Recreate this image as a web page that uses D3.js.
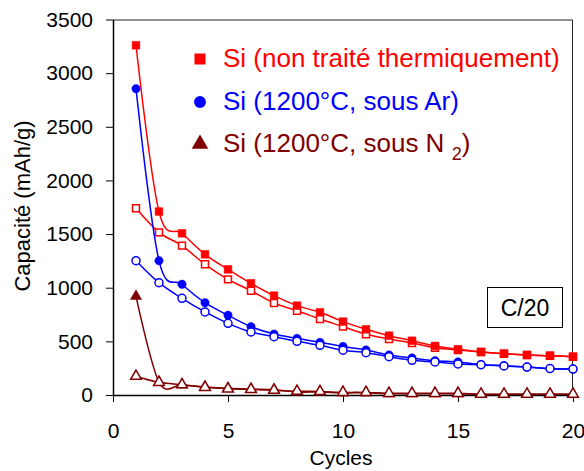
<!DOCTYPE html>
<html><head><meta charset="utf-8">
<script src="https://cdn.jsdelivr.net/npm/d3@7"></script>
<style>
html,body{margin:0;padding:0;background:#fff;}
svg{display:block;font-family:"Liberation Sans",Arial,sans-serif;}
</style></head>
<body><svg id="c" width="584" height="471"></svg>
<script>
const cycles = [1,2,3,4,5,6,7,8,9,10,11,12,13,14,15,16,17,18,19,20];
const redFilled  = [3260,1710,1507,1311,1171,1041,926,833,771,684,612,553,506,457,426,401,385,373,366,357];
const redOpen    = [1740,1516,1392,1218,1078,972,857,786,708,637,566,522,485,441,419,401,385,373,366,357];
const blueFilled = [2855,1252,1032,860,743,637,568,528,491,452,419,373,345,320,308,283,273,261,245,242];
const blueOpen   = [1252,1047,901,774,668,587,543,500,463,418,394,357,323,308,289,283,271,260,247,242];
const darkFilled = [920,120,95,75,62,55,50,28,28,20,20,12,12,12,12,6,6,6,6,6];
const darkOpen   = [175,118,96,72,58,52,45,35,33,25,24,16,16,16,16,8,8,8,8,8];
const xTicks = [0,5,10,15,20];
const yTicks = [0,500,1000,1500,2000,2500,3000,3500];
const legendLabels = ["Si (non traité thermiquement)","Si (1200°C, sous Ar)","Si (1200°C, sous N"];

const RED="#ff0000", BLUE="#0000ff", DARK="#800000";
const svg = d3.select("#c");
const L=113, R=573, T=19.5, B=395;
const x = d3.scaleLinear().domain([0,20]).range([L,R]);
const y = d3.scaleLinear().domain([0,3500]).range([B,T]);

// frame top/right
svg.append("path").attr("d",`M${L},${T+0.5}H${R-0.5}V${B}`).attr("fill","none").attr("stroke","#222").attr("stroke-width",1);

const fs = "21px";
const gx = svg.append("g").attr("transform",`translate(0,${B})`)
  .call(d3.axisBottom(x).tickValues(xTicks).tickFormat(d3.format("d")).tickSize(7).tickPadding(21).tickSizeOuter(0));
const gy = svg.append("g").attr("transform",`translate(${L},0)`)
  .call(d3.axisLeft(y).tickValues(yTicks).tickFormat(d3.format("d")).tickSize(7).tickPadding(13).tickSizeOuter(0));
[gx,gy].forEach(g=>{
  g.select(".domain").attr("stroke","#000").attr("stroke-width",1.5);
  g.selectAll(".tick line").attr("stroke","#000");
  g.selectAll("text").attr("font-size",fs).attr("fill","#000").attr("font-family","Liberation Sans, Arial, sans-serif");
});

// axis titles
svg.append("text").attr("x",341).attr("y",465).attr("text-anchor","middle")
  .attr("font-size","21px").text("Cycles");
svg.append("text").attr("transform","translate(30,206) rotate(-90)").attr("text-anchor","middle")
  .attr("font-size","22px").text("Capacité (mAh/g)");

const line = d3.line().x((d,i)=>x(cycles[i])).y(d=>y(d)).curve(d3.curveCatmullRom.alpha(0));

function series(vals, color, shape, filled){
  const g = svg.append("g");
  g.append("path").datum(vals).attr("d",line).attr("fill","none").attr("stroke",color).attr("stroke-width",1.5);
  const sym = d3.symbol().type(shape==="square"?d3.symbolSquare:shape==="circle"?d3.symbolCircle:d3.symbolTriangle)
    .size(shape==="square"?(filled?60:48):shape==="circle"?(filled?55:50):(filled?55:50));
  g.selectAll("path.m").data(vals).join("path").attr("class","m")
    .attr("d",sym)
    .attr("transform",(d,i)=>`translate(${x(cycles[i])},${y(d)})`)
    .attr("fill",filled?color:"#fff").attr("stroke",color).attr("stroke-width",filled?0.5:1.5);
}
series(redOpen,RED,"square",false);
series(redFilled,RED,"square",true);
series(blueFilled,BLUE,"circle",true);
series(blueOpen,BLUE,"circle",false);
series(darkFilled,DARK,"triangle",true);
series(darkOpen,DARK,"triangle",false);

// legend
const lg = svg.append("g");
const legendColors=[RED,BLUE,DARK];
const legendShapes=[d3.symbolSquare,d3.symbolCircle,d3.symbolTriangle];
const legendY=[67,110,152];
const legendSizes=[121,110,120];
legendLabels.forEach((lab,i)=>{
  lg.append("path").attr("d",d3.symbol().type(legendShapes[i]).size(legendSizes[i]))
    .attr("transform",`translate(200,${legendY[i]-8})`).attr("fill",legendColors[i]);
  const t = lg.append("text").attr("x",223).attr("y",legendY[i]).attr("font-size","26px").attr("fill",legendColors[i]);
  t.append("tspan").text(lab);
  if(i===2){
    t.append("tspan").text(" ");
    t.append("tspan").attr("dy",8).attr("font-size","18px").text("2");
    t.append("tspan").attr("dy",-8).text(")");
  }
});

// C/20 box
svg.append("rect").attr("x",487.5).attr("y",287.5).attr("width",75).attr("height",40)
  .attr("fill","#fff").attr("stroke","#000").attr("stroke-width",1);
svg.append("text").attr("x",525).attr("y",316).attr("text-anchor","middle").attr("font-size","23px").text("C/20");
</script></body></html>
